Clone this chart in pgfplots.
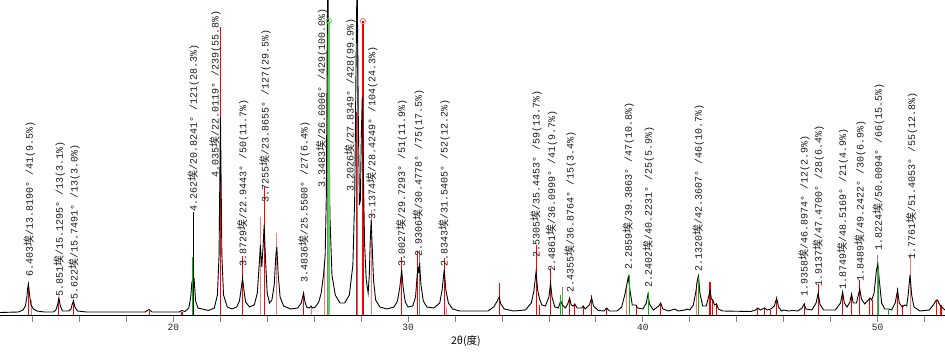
\documentclass[border=0pt]{standalone}
\usepackage{pgfplots}
\pgfplotsset{compat=1.18}
\usepackage{fontspec}
\setmainfont{Liberation Sans}
\newfontfamily\mono{Liberation Mono}
\newfontfamily\cjk{Noto Sans CJK SC}
\definecolor{pk}{RGB}{255,120,120}
\definecolor{gn}{RGB}{0,190,0}
\definecolor{lgn}{RGB}{100,205,100}
\definecolor{gy}{RGB}{130,130,130}
\newcommand\lab[4]{\node[rotate=90,anchor=west,inner sep=0pt,text=black!90,font=\mono\fontsize{10}{10}\selectfont] at (axis cs:#1,#2) {#3{\cjk\fontsize{11}{11}\selectfont 埃}#4};}
\begin{document}
\begin{tikzpicture}
\useasboundingbox (0pt,-41pt) rectangle (945pt,315pt);
\begin{axis}[
  scale only axis, width=945pt, height=315pt,
  xmin=12.62, xmax=52.87, ymin=0, ymax=315,
  axis x line*=bottom, axis y line=none,
  x axis line style={-, black, line width=0.8pt},
  xtick={20,30,40,50},
  minor xtick={14,16,18,22,24,26,28,32,34,36,38,42,44,46,48,52},
  tick align=outside, major tick length=7pt, minor tick length=7pt,
  every tick/.style={gy, line width=0.8pt},
  /pgf/number format/assume math mode=true,
  xticklabel style={font=\mono\fontsize{9.5}{9.5}\selectfont, text=black!85, inner sep=1.5pt},
  xlabel={\cjk\fontsize{10.5}{10.5}\selectfont 2θ(度)},
  xlabel style={at={(axis description cs:0.493,-0.0816)}, anchor=center},
  clip mode=individual,
]
% peak markers
\addplot[ycomb, gy, line width=1.1pt] coordinates {(26.58,315)(27.83,315)(30.50,65)(36.58,28)(50.01,60)};
\addplot[ycomb, black, line width=0.6pt] coordinates {(20.85,103)};
% reference pattern 1 (light)
\addplot[ycomb, pk, line width=1.1pt] coordinates {
(13.97,15)(23.70,98)(24.40,82)(25.90,8)(26.45,50)(28.45,105)(31.65,8)(39.31,28)(42.29,33)(51.40,62)};
% reference pattern 1
\addplot[ycomb, red, line width=1.1pt] coordinates {
(13.82,29)(15.13,17)(15.75,14)(18.97,4)(20.37,3)(22.01,288)(22.94,59)(23.87,128)(25.55,21)(27.80,203)(28.08,294)
(29.73,58)(30.39,64)(31.54,57)(33.88,32)(35.48,70)(35.60,10)(36.07,47)(36.88,17)(37.10,11)(37.46,9)(37.82,20)
(38.46,6)(39.73,10)(40.76,10)(42.86,33)(42.97,16)(43.14,12)(44.89,7)(45.17,7)(45.45,5)(45.70,17)(46.87,12)
(47.47,31)(48.52,23)(48.88,22)(49.24,35)(49.67,17)(49.78,15)(50.86,27)(51.07,10)(52.51,15)(52.70,10)};
% measured pattern
\addplot[black, line width=0.9pt] coordinates {
(12.62,2.5)(13.40,3)(13.60,5)(13.70,9)(13.76,17)(13.80,27)(13.83,31)(13.88,20)(13.94,10)(14.05,6)(14.2,4)(14.5,3)
(14.9,3)(15.00,5)(15.07,10)(15.13,17)(15.19,9)(15.28,4)(15.55,4)(15.64,6)(15.70,11)(15.75,14)(15.81,8)(15.92,4)
(16.3,3)(18.8,3)(18.97,5.5)(19.1,3)(20.25,3)(20.37,4.5)(20.5,3.5)(20.66,7)(20.74,17)(20.79,32)(20.83,30)(20.89,35)(20.95,14)(21.05,7)
(21.5,4.5)(21.75,7)(21.88,20)(21.95,60)(22.01,198)(22.07,60)(22.14,20)(22.3,8)(22.5,6)(22.7,8)(22.82,14)(22.89,26)
(22.95,37)(23.01,25)(23.08,13)(23.25,8)(23.45,10)(23.58,22)(23.66,50)(23.71,70)(23.77,48)(23.83,70)(23.87,90)(23.93,55)
(24.00,22)(24.1,12)(24.2,15)(24.3,30)(24.37,60)(24.41,68)(24.47,40)(24.55,18)(24.7,9)(25.0,6)(25.3,7)(25.45,12)
(25.51,18)(25.55,22)(25.60,14)(25.68,8)(25.8,7)(25.87,9)(25.93,7)(26.05,8)(26.2,13)(26.3,22)(26.4,40)(26.47,60)
(26.52,120)(26.56,280)(26.58,345)(26.61,280)(26.67,100)(26.76,40)(26.9,20)(27.1,12)(27.3,12)(27.5,20)(27.65,50)(27.73,120)
(27.79,260)(27.83,345)(27.88,200)(27.93,110)(27.97,115)(28.01,180)(28.05,218)(28.09,150)(28.15,70)(28.22,35)(28.30,22)(28.35,40)
(28.39,75)(28.43,95)(28.47,70)(28.53,35)(28.62,15)(28.8,8)(29.1,6)(29.4,8)(29.55,14)(29.65,28)(29.73,45)(29.79,28)
(29.88,13)(30.0,8)(30.2,9)(30.32,18)(30.39,40)(30.43,48)(30.45,42)(30.49,52)(30.55,30)(30.65,14)(30.8,8)(31.1,7)
(31.35,12)(31.45,25)(31.54,45)(31.61,25)(31.72,12)(31.9,6)(32.2,4)(33.4,4)(33.65,8)(33.80,14)(33.88,18)(33.95,11)
(34.1,6)(34.5,4)(35.0,5)(35.25,12)(35.36,24)(35.45,43)(35.52,25)(35.60,16)(35.70,10)(35.85,9)(36.0,18)(36.07,32)
(36.13,18)(36.25,8)(36.40,7)(36.50,14)(36.58,10)(36.70,7)(36.80,11)(36.88,17)(36.95,10)(37.05,9)(37.10,11)(37.2,7)
(37.4,7)(37.46,9)(37.55,6)(37.72,10)(37.82,17)(37.90,9)(38.1,4.5)(38.35,4)(38.46,7)(38.58,4)(38.9,4)(39.1,8)
(39.25,22)(39.33,32)(39.38,38)(39.45,25)(39.55,10)(39.70,10)(39.78,7)(40.0,6)(40.15,12)(40.22,21)(40.28,11)(40.45,5)
(40.68,9)(40.76,12)(40.85,6)(41.1,4)(41.37,6)(41.5,4)(41.8,5)(41.87,6)(42.0,5)(42.15,10)(42.25,22)(42.33,36)
(42.37,39)(42.43,22)(42.55,9)(42.7,9)(42.8,18)(42.86,25)(42.92,16)(42.98,15)(43.05,10)(43.14,11)(43.22,6)(43.4,4)
(44.6,3.5)(44.8,5)(44.9,7)(45.0,5)(45.1,6)(45.17,7)(45.3,5)(45.45,6)(45.6,9)(45.70,17)(45.78,8)(45.9,4)
(46.0,5)(46.2,4)(46.39,4.5)(46.6,4)(46.78,7)(46.87,11)(46.95,6)(47.2,5)(47.38,12)(47.47,22)(47.54,11)(47.7,5)
(48.2,5)(48.42,12)(48.51,23)(48.58,12)(48.7,8)(48.82,13)(48.89,21)(48.96,12)(49.1,12)(49.18,20)(49.24,26)(49.31,16)
(49.45,11)(49.6,15)(49.68,17)(49.75,15)(49.85,22)(49.95,45)(50.01,51)(50.07,35)(50.17,12)(50.3,6)(50.47,6)(50.6,5)
(50.75,12)(50.85,25)(50.92,12)(51.05,8)(51.16,10)(51.24,9)(51.30,20)(51.38,40)(51.45,20)(51.55,8)(51.8,4)(52.2,5)
(52.4,11)(52.5,15)(52.55,15)(52.6,12)(52.72,8)(52.87,5)
};
% reference pattern 2
\addplot[ycomb, gn, line width=1.1pt] coordinates {
(20.82,58)(36.50,20)(39.42,40)(40.23,23)(42.37,38)(50.02,47)(50.47,5)};
\addplot[ycomb, lgn, line width=1.6pt] coordinates {(26.63,294)};
\addplot[only marks, mark=o, mark size=2.6pt, lgn, line width=0.9pt] coordinates {(26.63,294)};
\addplot[only marks, mark=o, mark size=2.6pt, pk, line width=0.9pt] coordinates {(28.08,294)};
% labels
\lab{13.867}{38}{6.403}{/13.8190° /41(9.5\%)}
\lab{15.145}{18}{5.851}{/15.1295° /13(3.1\%)}
\lab{15.771}{15}{5.622}{/15.7491° /13(3.0\%)}
\lab{20.852}{103}{4.262}{/20.8241° /121(28.3\%)}
\lab{21.776}{137}{4.035}{/22.0119° /239(55.8\%)}
\lab{22.956}{48}{3.8729}{/22.9443° /50(11.7\%)}
\lab{23.905}{112}{3.7255}{/23.8655° /127(29.5\%)}
\lab{25.566}{32}{3.4836}{/25.5500° /27(6.4\%)}
\lab{26.320}{127}{3.3483}{/26.6006° /429(100.0\%)}
\lab{27.526}{123}{3.2026}{/27.8349° /428(99.9\%)}
\lab{28.450}{95}{3.1374}{/28.4249° /104(24.3\%)}
\lab{29.727}{48}{3.0027}{/29.7293° /51(11.9\%)}
\lab{30.434}{58}{2.9306}{/30.4778° /75(17.5\%)}
\lab{31.529}{48}{2.8343}{/31.5405° /52(12.2\%)}
\lab{35.447}{57}{2.5305}{/35.4453° /59(13.7\%)}
\lab{36.116}{43}{2.4861}{/36.0999° /41(9.7\%)}
\lab{36.895}{22}{2.4355}{/36.8764° /15(3.4\%)}
\lab{39.378}{45}{2.2859}{/39.3863° /47(10.8\%)}
\lab{40.230}{27}{2.2402}{/40.2231° /25(5.9\%)}
\lab{42.360}{43}{2.1320}{/42.3607° /46(10.7\%)}
\lab{46.861}{18}{1.9358}{/46.8974° /12(2.9\%)}
\lab{47.470}{28}{1.9137}{/47.4700° /28(6.4\%)}
\lab{48.509}{25}{1.8749}{/48.5169° /21(4.9\%)}
\lab{49.246}{33}{1.8489}{/49.2422° /30(6.9\%)}
\lab{50.026}{64}{1.8224}{/50.0094° /66(15.5\%)}
\lab{51.448}{55}{1.7761}{/51.4053° /55(12.8\%)}
\end{axis}
\end{tikzpicture}
\end{document}
